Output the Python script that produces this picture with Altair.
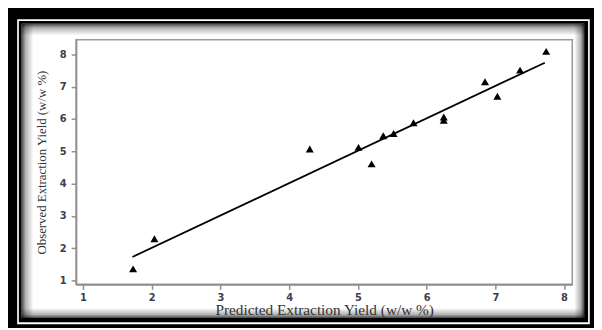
import altair as alt
import pandas as pd

# Data
predicted = [1.73, 2.04, 4.30, 5.01, 5.20, 5.37, 5.52, 5.81, 6.25, 6.25, 6.85, 7.03, 7.36, 7.74]
observed = [1.36, 2.29, 5.07, 5.12, 4.61, 5.48, 5.55, 5.88, 6.06, 5.96, 7.15, 6.70, 7.51, 8.09]
fit_x = [1.72, 7.72]
fit_y = [1.73, 7.74]
x_ticks = [1, 2, 3, 4, 5, 6, 7, 8]
y_ticks = [1, 2, 3, 4, 5, 6, 7, 8]
x_title = "Predicted Extraction Yield (w/w %)"
y_title = "Observed Extraction Yield (w/w %)"

pts = pd.DataFrame({"pred": predicted, "obs": observed})
fit = pd.DataFrame({"pred": fit_x, "obs": fit_y})
one = pd.DataFrame({"k": [0]})

W, H = 503, 248
xs = alt.Scale(domain=[0.9, 8.12], nice=False, zero=False)
ys = alt.Scale(domain=[0.88, 8.45], nice=False, zero=False)

axis_common = dict(
    domainColor="#8f8f8f", domainWidth=1.6,
    tickColor="#8f8f8f", tickWidth=1.5, tickSize=5,
    labelFont="DejaVu Sans", labelFontSize=10, labelFontWeight="bold", labelColor="#3d3d4d",
    labelOverlap=False, format="d", tickCount=8,
    titleFont="Liberation Serif", titleFontWeight="normal", titleColor="#333333",
    grid=False, zindex=1,
)
x_axis = alt.Axis(values=x_ticks, title=x_title, titleFontSize=15.5,
                  labelPadding=3, titlePadding=1, **axis_common)
y_axis = alt.Axis(values=y_ticks, title=y_title, titleFontSize=13,
                  labelPadding=5, titlePadding=11, **axis_common)


def rect(x, x2, y, y2, **kw):
    return alt.Chart(one).mark_rect(**kw).encode(
        x=alt.value(x), x2=alt.value(x2), y=alt.value(y), y2=alt.value(y2)
    )


def grad(x1, y1, x2, y2):
    return alt.Gradient(
        gradient="linear",
        stops=[
            alt.GradientStop(color="rgba(0,0,0,0.72)", offset=0),
            alt.GradientStop(color="rgba(0,0,0,0.3)", offset=0.35),
            alt.GradientStop(color="rgba(0,0,0,0)", offset=1),
        ],
        x1=x1, y1=y1, x2=x2, y2=y2,
    )


white_line = rect(-59.7, 520.7, -20.7, 288.3, fill="white")
black_line = rect(-58, 519, -19, 286.3, fill="black")
interior = rect(-55.3, 515, -16.3, 282, fill="white")
g_left = rect(-55.3, -43.3, -16.3, 282, fill=grad(0, 0, 1, 0))
g_top = rect(-55.3, 515, -16.3, -4.3, fill=grad(0, 0, 0, 1))
g_right = rect(505, 515, -16.3, 282, fill=grad(1, 0, 0, 0))
g_bottom = rect(-55.3, 515, 272, 282, fill=grad(0, 1, 0, 0))

frame = rect(0, W, 0, H, fill="transparent", stroke="#9a9a9a", strokeWidth=1.6)

line = alt.Chart(fit).mark_line(color="black", strokeWidth=1.8).encode(
    x=alt.X("pred:Q", scale=xs, axis=x_axis), y=alt.Y("obs:Q", scale=ys, axis=y_axis)
)

points = alt.Chart(pts).mark_point(
    shape="triangle-up", filled=True, color="black", opacity=1, size=66
).encode(
    x=alt.X("pred:Q", scale=xs, axis=x_axis),
    y=alt.Y("obs:Q", scale=ys, axis=y_axis),
)

chart = alt.layer(
    white_line, black_line, interior, g_left, g_top, g_right, g_bottom,
    frame, line, points,
).properties(
    width=W, height=H,
    autosize=alt.AutoSizeParams(type="none"),
    padding={"left": 69, "top": 30, "right": 22, "bottom": 42},
    background="black",
).configure_view(strokeWidth=0)

chart.save("out.html", embed_options={"renderer": "svg", "actions": False})
